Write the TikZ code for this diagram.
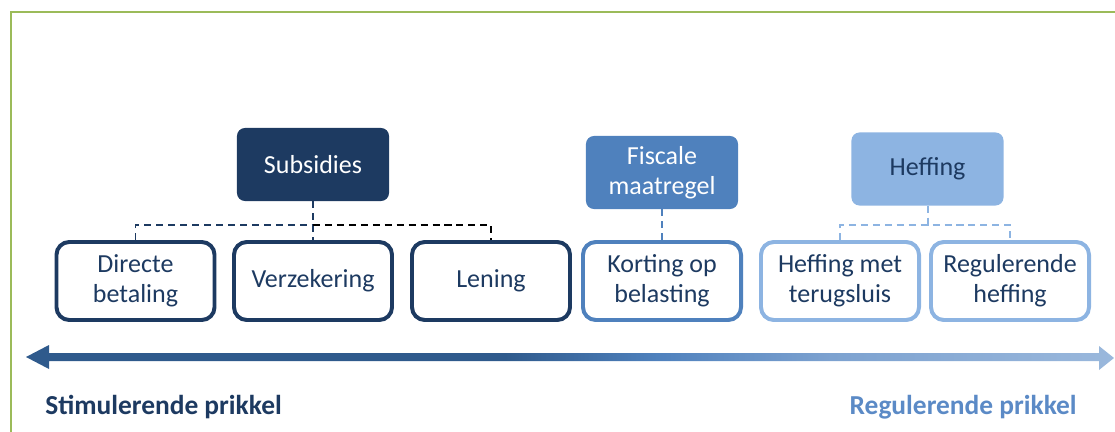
\documentclass[tikz,border=0pt]{standalone}
\usepackage{fontspec}
\setmainfont{Carlito}
\definecolor{navy}{HTML}{1D3A61}
\definecolor{midblue}{HTML}{4F81BD}
\definecolor{lightblue}{HTML}{8DB4E2}
\definecolor{arrowdark}{HTML}{2F5A8C}
\definecolor{arrowpale}{HTML}{7DA2D0}
\definecolor{arrowlight}{HTML}{9AB8DC}
\definecolor{framegreen}{HTML}{9BBB59}
\definecolor{labelblue}{HTML}{5B8AC6}
\pgfdeclarehorizontalshading{prikkel}{100bp}{color(0bp)=(arrowdark); color(25bp)=(arrowdark); color(47bp)=(arrowdark); color(54bp)=(midblue); color(62bp)=(arrowpale); color(75bp)=(arrowlight); color(100bp)=(arrowlight)}
\begin{document}
\begin{tikzpicture}[x=0.025cm, y=-0.025cm,
  head/.style={rounded corners=0.2cm, minimum width=3.8cm, minimum height=1.825cm,
    inner sep=0pt, align=center, font=\fontsize{18.5}{21.5}\selectfont},
  leaf/.style={rounded corners=0.32cm, line width=2.8pt, fill=white, text=navy,
    minimum width=3.95cm, minimum height=1.95cm, inner sep=0pt, align=center,
    font=\fontsize{18.5}{21.5}\selectfont},
  link/.style={line width=1.4pt, dash pattern=on 5pt off 3.5pt},
  side/.style={inner sep=0pt, font=\bfseries\fontsize{19.5}{23}\selectfont}]
  \useasboundingbox (0,0) rectangle (1115,432);
  \draw[framegreen, line width=1.5pt] (11,432) -- (11,12) -- (1115,12);

  \node[head, fill=navy, text=white] (sub) at (313,164.5) {Subsidies};
  \node[head, fill=midblue, text=white] (fisc) at (662,172.5) {Fiscale\\maatregel};
  \node[head, fill=lightblue, text=navy] (heff) at (927.5,169) {Heffing};

  \node[leaf, draw=navy] (dir) at (135.5,281) {Directe\\betaling};
  \node[leaf, draw=navy] (verz) at (313,281) {Verzekering};
  \node[leaf, draw=navy] (len) at (491,281) {Lening};
  \node[leaf, draw=midblue] (kort) at (662,281) {Korting op\\belasting};
  \node[leaf, draw=lightblue] (hmt) at (840,281) {Heffing met\\terugsluis};
  \node[leaf, draw=lightblue] (reg) at (1010,281) {Regulerende\\heffing};

  \coordinate (subbar) at (313,225);
  \coordinate (heffbar) at (927.5,225);
  \draw[link, navy] (sub.south) -- (verz.north);
  \draw[link, navy] (dir.north) |- (subbar);
  \draw[link, black] (subbar) -| (len.north);
  \draw[link, midblue] (fisc.south) -- (kort.north);
  \draw[link, lightblue] (heff.south) -- (heffbar);
  \draw[link, lightblue] (hmt.north) |- (heffbar) -| (reg.north);

  \coordinate (lo) at (26,357);
  \coordinate (hi) at (1114,358);
  \shade[shading=prikkel] (lo) -- (49,345) -- (49,353) -- (1099,353) -- (1099,346)
    -- (hi) -- (1099,370) -- (1099,361) -- (49,361) -- (49,369) -- cycle;

  \node[side, text=navy, anchor=base west] (stim) at (45,414) {Stimulerende prikkel};
  \node[side, text=labelblue, anchor=base east] (regu) at (1077,414) {Regulerende prikkel};
\end{tikzpicture}
\end{document}
